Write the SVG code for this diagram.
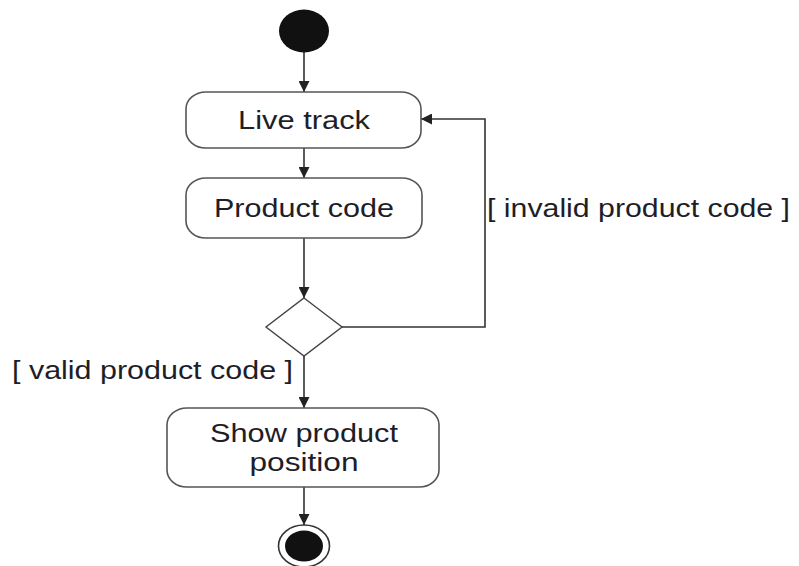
<svg xmlns="http://www.w3.org/2000/svg" width="799" height="566" viewBox="0 0 799 566">
<defs>
<style>
.box{fill:#fff;stroke:#555;stroke-width:1.6}
.ln{fill:none;stroke:#333;stroke-width:1.6}
.t{font-family:"Liberation Sans",Arial,sans-serif;font-size:25px;fill:#1e1e28}
</style>
<marker id="arr" viewBox="0 0 10 10" refX="10" refY="5" markerWidth="11" markerHeight="11" markerUnits="userSpaceOnUse" orient="auto">
<path d="M0,0 L10,5 L0,10 z" fill="#222"/>
</marker>
</defs>
<rect width="799" height="566" fill="#fff"/>
<g id="connectors">
<line class="ln" x1="304" y1="52" x2="304" y2="92" marker-end="url(#arr)"/>
<line class="ln" x1="304" y1="148" x2="304" y2="178" marker-end="url(#arr)"/>
<line class="ln" x1="304" y1="238" x2="304" y2="298" marker-end="url(#arr)"/>
<line class="ln" x1="304" y1="356" x2="304" y2="408" marker-end="url(#arr)"/>
<line class="ln" x1="304" y1="487" x2="304" y2="525" marker-end="url(#arr)"/>
<polyline class="ln" points="342,327 485,327 485,119 421,119" marker-end="url(#arr)"/>
<text class="t" x="487" y="217" textLength="303" lengthAdjust="spacingAndGlyphs">[ invalid product code ]</text>
<text class="t" x="12" y="379" textLength="281" lengthAdjust="spacingAndGlyphs">[ valid product code ]</text>
</g>
<g id="start">
<ellipse cx="304" cy="31" rx="25" ry="21.5" fill="#111"/>
</g>
<g id="live-track">
<rect class="box" x="186" y="92" width="235" height="56" rx="20" ry="17"/>
<text class="t" x="304" y="129" text-anchor="middle" textLength="132" lengthAdjust="spacingAndGlyphs">Live track</text>
</g>
<g id="product-code">
<rect class="box" x="186" y="178" width="236" height="60" rx="20" ry="17"/>
<text class="t" x="304" y="217" text-anchor="middle" textLength="180" lengthAdjust="spacingAndGlyphs">Product code</text>
</g>
<g id="decision">
<polygon points="304,298 342,327 304,356 266,327" fill="#fff" stroke="#444" stroke-width="1.4"/>
</g>
<g id="show-position">
<rect class="box" x="167" y="408" width="272" height="79" rx="20" ry="17"/>
<text class="t" x="304" y="442" text-anchor="middle" textLength="188" lengthAdjust="spacingAndGlyphs">Show product</text>
<text class="t" x="304" y="471" text-anchor="middle" textLength="109" lengthAdjust="spacingAndGlyphs">position</text>
</g>
<g id="end">
<ellipse cx="304" cy="546" rx="25.5" ry="21" fill="#fff" stroke="#333" stroke-width="1.6"/>
<ellipse cx="304" cy="546" rx="19" ry="15.5" fill="#111"/>
</g>
</svg>
